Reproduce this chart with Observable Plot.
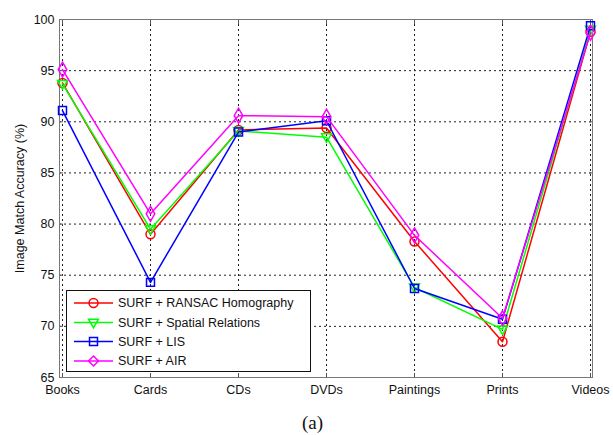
<!DOCTYPE html>
<html><head><meta charset="utf-8">
<script src="https://cdn.jsdelivr.net/npm/d3@7"></script>
<script src="https://cdn.jsdelivr.net/npm/@observablehq/plot@0.6"></script>
<style>
body{margin:0;background:#fff;}
#wrap{position:relative;width:613px;height:435px;font-family:"Liberation Sans",Arial,sans-serif;}
#legend{position:absolute;left:66px;top:290px;}
#caption{position:absolute;left:6px;width:613px;top:412px;text-align:center;font-family:"Liberation Serif","Times New Roman",serif;font-size:19px;line-height:22px;color:#111;}
</style></head><body><div id="wrap"><div id="caption">(a)</div></div>
<script>
const categories = ["Books","Cards","CDs","DVDs","Paintings","Prints","Videos"];
const seriesNames = ["SURF + RANSAC Homography","SURF + Spatial Relations","SURF + LIS","SURF + AIR"];
const seriesColors = ["#ff0000","#00ff00","#0000ff","#ff00ff"];
const ransac  = [93.8, 79.0, 89.2, 89.4, 78.3, 68.5, 98.8];
const spatial = [93.7, 79.5, 89.1, 88.5, 73.8, 69.7, 99.0];
const lis     = [91.1, 74.3, 89.0, 90.1, 73.7, 70.7, 99.4];
const air     = [95.1, 81.0, 90.6, 90.5, 78.9, 70.8, 98.7];
const yTicks  = [65, 70, 75, 80, 85, 90, 95, 100];
const yLabel  = "Image Match Accuracy (%)";
const caption = "(a)";

const seriesValues = [ransac, spatial, lis, air];

const triDown = {
  draw(ctx, size) {
    const r = Math.sqrt(size / Math.PI);
    ctx.moveTo(-r * 1.1, -r * 0.75);
    ctx.lineTo(r * 1.1, -r * 0.75);
    ctx.lineTo(0, r * 1.15);
    ctx.closePath();
  }
};
const symbols = ["circle", triDown, "square", "diamond"];

const table = seriesNames.map((name, s) => categories.map((c, i) => ({series: name, category: c, value: seriesValues[s][i]})));

const marks = [
  Plot.gridX(categories, {stroke: "#222", strokeOpacity: 1, strokeDasharray: "2,3", strokeWidth: 1}),
  Plot.gridY(yTicks, {stroke: "#222", strokeOpacity: 1, strokeDasharray: "2,3", strokeWidth: 1}),
  Plot.axisX({anchor: "bottom", tickSize: 0, tickPadding: 8, fontSize: 12.5, fill: "#111"}),
  Plot.axisX({anchor: "bottom", tickSize: -4, tickFormat: () => "", stroke: "#555"}),
  Plot.axisX({anchor: "top", tickSize: -4, tickFormat: () => "", stroke: "#555"}),
  Plot.axisY(yTicks, {anchor: "left", tickSize: 0, tickPadding: 5, fontSize: 12.5, fill: "#111",
    label: yLabel, labelAnchor: "center", labelArrow: "none", labelOffset: 44}),
  Plot.axisY(yTicks, {anchor: "left", tickSize: -4, tickFormat: () => "", stroke: "#555", label: null}),
  Plot.axisY(yTicks, {anchor: "right", tickSize: -4, tickFormat: () => "", stroke: "#555", label: null}),
  Plot.frame({stroke: "#777", strokeWidth: 1})
];
seriesNames.forEach((name, s) => {
  marks.push(Plot.line(table[s], {x: "category", y: "value", stroke: seriesColors[s], strokeWidth: 1.5}));
  marks.push(Plot.dot(table[s], {x: "category", y: "value", stroke: seriesColors[s], strokeWidth: 1.5, symbol: () => symbols[s], r: 4.5, fill: "none"}));
});

const chart = Plot.plot({
  width: 613, height: 405,
  marginLeft: 59, marginRight: 21, marginTop: 19, marginBottom: 28,
  style: {fontFamily: "'Liberation Sans', Arial, sans-serif", fontSize: "12.5px", color: "#111", background: "#fff"},
  x: {type: "point", domain: categories, padding: 0, label: null},
  y: {domain: [65, 100], ticks: yTicks},
  symbol: {type: "identity"},
  marks
});
const wrap = document.getElementById("wrap");
wrap.insertBefore(chart, wrap.firstChild);
document.getElementById("caption").textContent = caption;

// legend overlay
const lw = 244, lh = 81, rowY = [13, 32.5, 51.5, 71];
const lg = d3.create("svg").attr("id", "legend").attr("width", lw + 1).attr("height", lh + 1)
  .style("font-family", "'Liberation Sans', Arial, sans-serif").style("font-size", "12.5px");
lg.append("rect").attr("x", 0.5).attr("y", 0.5).attr("width", lw).attr("height", lh).attr("fill", "#fff").attr("stroke", "#111");
seriesNames.forEach((name, s) => {
  const g = lg.append("g").attr("transform", `translate(0,${rowY[s]})`);
  g.append("line").attr("x1", 8).attr("x2", 47).attr("y1", 0).attr("y2", 0).attr("stroke", seriesColors[s]).attr("stroke-width", 1.5);
  const sym = typeof symbols[s] === "string" ? {circle: d3.symbolCircle, square: d3.symbolSquare, diamond: d3.symbolDiamond2}[symbols[s]] : symbols[s];
  g.append("path").attr("transform", "translate(27.5,0)").attr("d", d3.symbol(sym, 4.5 * 4.5 * Math.PI)()).attr("fill", "none").attr("stroke", seriesColors[s]).attr("stroke-width", 1.5);
  g.append("text").attr("x", 52).attr("y", 0).attr("dy", "0.35em").attr("fill", "#111").text(name);
});
wrap.appendChild(lg.node());
</script></body></html>
